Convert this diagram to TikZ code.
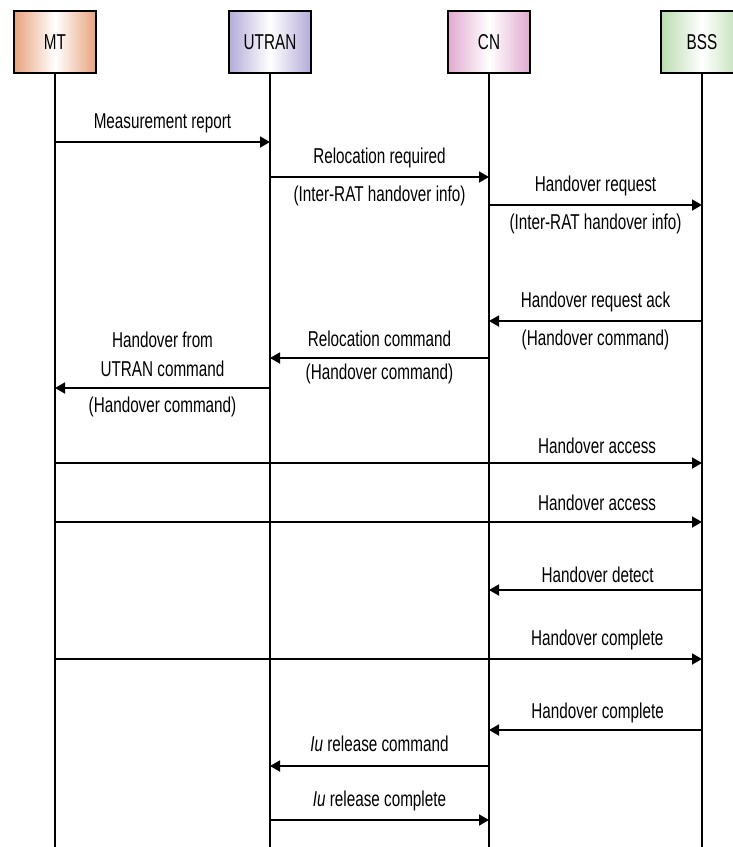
\documentclass[tikz,border=0pt]{standalone}
\usepackage{fontspec}
\setmainfont[FakeStretch=0.71]{Liberation Sans}
\usetikzlibrary{arrows.meta}
\definecolor{mtc}{HTML}{E8A27C}
\definecolor{utc}{HTML}{B4ACD8}
\definecolor{cnc}{HTML}{E0AACE}
\definecolor{bsc}{HTML}{BADBB0}
\begin{document}
\begin{tikzpicture}[x=1pt,y=-1pt,
  txt/.style={font=\fontsize{21.5}{29}\selectfont, inner sep=0pt},
  ent/.style={txt, draw=black, line width=1.6pt, minimum width=82pt, minimum height=62pt},
  life/.style={line width=2.4pt},
  msg/.style={line width=1.8pt, -{Triangle[length=10pt,width=11pt]}},
  la/.style={txt, midway, yshift=19pt},
  lb/.style={txt, midway, yshift=-19pt}]
\useasboundingbox (0,0) rectangle (733,847);
\clip (0,0) rectangle (733,847);
% entities
\node[ent, left color=mtc, right color=mtc, middle color=white] (mt) at (55,42) {MT};
\node[ent, left color=utc, right color=utc, middle color=white] (ut) at (270,42) {UTRAN};
\node[ent, left color=cnc, right color=cnc, middle color=white] (cn) at (489,42) {CN};
\node[ent, left color=bsc, right color=bsc, middle color=white] (bs) at (702,42) {BSS};
% lifelines
\coordinate (mtend) at (55,850);
\coordinate (utend) at (270,850);
\coordinate (cnend) at (489,850);
\coordinate (bsend) at (702,850);
\draw[life] (mt.south) -- (mtend);
\draw[life] (ut.south) -- (utend);
\draw[life] (cn.south) -- (cnend);
\draw[life] (bs.south) -- (bsend);
% messages
\draw[msg] (mt |- 0,142) -- (ut |- 0,142) node[la] {Measurement report};
\draw[msg] (ut |- 0,177) -- (cn |- 0,177) node[la] {Relocation required} node[lb] {(Inter-RAT handover info)};
\draw[msg] (cn |- 0,205) -- (bs |- 0,205) node[la] {Handover request} node[lb] {(Inter-RAT handover info)};
\draw[msg] (bs |- 0,321) -- (cn |- 0,321) node[la] {Handover request ack} node[lb] {(Handover command)};
\draw[msg] (cn |- 0,358) -- (ut |- 0,358) node[la] {Relocation command} node[lb, yshift=3pt] {(Handover command)};
\draw[msg] (ut |- 0,388) -- (mt |- 0,388) node[txt, midway, yshift=34pt, align=center] {Handover from\\UTRAN command} node[lb] {(Handover command)};
\draw[msg] (mt |- 0,463) -- (bs |- 0,463) node[la, pos=0.838, yshift=-2pt] {Handover access};
\draw[msg] (mt |- 0,522) -- (bs |- 0,522) node[la, pos=0.838] {Handover access};
\draw[msg] (bs |- 0,590) -- (cn |- 0,590) node[la, pos=0.49, yshift=-4pt] {Handover detect};
\draw[msg] (mt |- 0,659) -- (bs |- 0,659) node[la, pos=0.838] {Handover complete};
\draw[msg] (bs |- 0,730) -- (cn |- 0,730) node[la, pos=0.49, yshift=-2pt] {Handover complete};
\draw[msg] (cn |- 0,766) -- (ut |- 0,766) node[la, yshift=3pt] {\textit{Iu} release command};
\draw[msg] (ut |- 0,820) -- (cn |- 0,820) node[la] {\textit{Iu} release complete};
\end{tikzpicture}
\end{document}
